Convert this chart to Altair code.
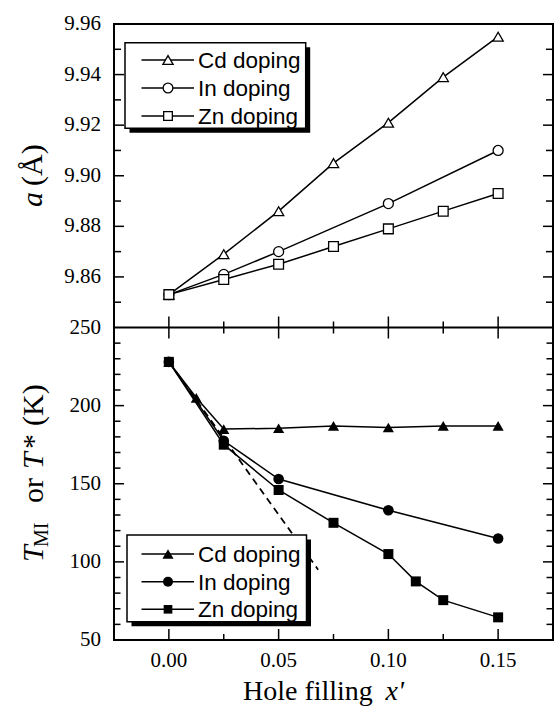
import altair as alt
import pandas as pd

# ---------------- data ----------------
series = ["Cd doping", "In doping", "Zn doping"]
shapes = ["triangle-up", "circle", "square"]

# lattice parameter a (Å) against hole filling x'
a_cd_x = [0.0, 0.025, 0.05, 0.075, 0.10, 0.125, 0.15]
a_cd = [9.853, 9.869, 9.886, 9.905, 9.921, 9.939, 9.955]
a_in_x = [0.0, 0.025, 0.05, 0.10, 0.15]
a_in = [9.853, 9.861, 9.870, 9.889, 9.910]
a_zn_x = [0.0, 0.025, 0.05, 0.075, 0.10, 0.125, 0.15]
a_zn = [9.853, 9.859, 9.865, 9.872, 9.879, 9.886, 9.893]

# transition temperature T_MI / T* (K) against hole filling x'
t_cd_x = [0.0, 0.0125, 0.025, 0.05, 0.075, 0.10, 0.125, 0.15]
t_cd = [228, 205, 185, 185.5, 187, 186, 187, 187]
t_in_x = [0.0, 0.025, 0.05, 0.10, 0.15]
t_in = [228, 177.5, 153, 133, 115]
t_zn_x = [0.0, 0.025, 0.05, 0.075, 0.10, 0.1125, 0.125, 0.15]
t_zn = [228, 175, 146, 125, 105, 87.5, 75.5, 64.5]

# dashed extrapolation of the initial T_MI drop
guide_x = [0.0, 0.068]
guide_t = [228, 95]

# tick positions and labels
x_major = [0.0, 0.05, 0.10, 0.15]
x_minor = [0.025, 0.075, 0.125]
a_major = [9.86, 9.88, 9.90, 9.92, 9.94, 9.96]
a_minor = [9.85, 9.87, 9.89, 9.91, 9.93, 9.95]
t_labels = [50, 100, 150, 200, 250]
t_major = [100, 150, 200]
t_minor = [60, 70, 80, 90, 110, 120, 130, 140, 160, 170, 180, 190, 210, 220, 230, 240]

# ---------------- layout ----------------
PAD_L, PAD_T = 114, 24
W = 439
H_TOP = 303.5
H = 616
SERIF = "Liberation Serif"
SANS = "Liberation Sans"


def px(v):
    return v - PAD_L


def py(v):
    return v - PAD_T


def table(xv, yv, name):
    return pd.DataFrame({"x": xv, "v": yv, "series": name})


df_a = pd.concat([table(a_cd_x, a_cd, series[0]),
                  table(a_in_x, a_in, series[1]),
                  table(a_zn_x, a_zn, series[2])], ignore_index=True)
df_t = pd.concat([table(t_cd_x, t_cd, series[0]),
                  table(t_in_x, t_in, series[1]),
                  table(t_zn_x, t_zn, series[2])], ignore_index=True)
df_guide = pd.DataFrame({"x": guide_x, "v": guide_t})
one = pd.DataFrame({"k": [0]})

xs = alt.Scale(domain=[-0.025, 0.175], nice=False, zero=False)
ys_a = alt.Scale(domain=[9.84, 9.96], range=[H_TOP, 0], nice=False, zero=False)
ys_t = alt.Scale(domain=[50, 250], range=[H, H_TOP], nice=False, zero=False)


def yticks(vals, scale, length):
    d = pd.DataFrame({"v": vals})
    left = alt.Chart(d).mark_rule(color="black", strokeWidth=1.5).encode(
        y=alt.Y("v:Q", scale=scale, axis=None),
        x=alt.value(0), x2=alt.value(length))
    right = alt.Chart(d).mark_rule(color="black", strokeWidth=1.5).encode(
        y=alt.Y("v:Q", scale=scale, axis=None),
        x=alt.value(W), x2=alt.value(W - length))
    return [left, right]


def xticks(vals, y0, y1):
    d = pd.DataFrame({"v": vals})
    return alt.Chart(d).mark_rule(color="black", strokeWidth=1.5).encode(
        x=alt.X("v:Q", scale=xs, axis=None),
        y=alt.value(y0), y2=alt.value(y1))


def ylabels(vals, scale, fmt):
    d = pd.DataFrame({"v": vals})
    return alt.Chart(d).mark_text(
        align="right", baseline="middle", font=SERIF, fontSize=21, color="black"
    ).encode(y=alt.Y("v:Q", scale=scale, axis=None), x=alt.value(-13),
             text=alt.Text("v:Q", format=fmt))


def xlabels(vals):
    d = pd.DataFrame({"v": vals})
    return alt.Chart(d).mark_text(
        align="center", baseline="top", font=SERIF, fontSize=21, color="black"
    ).encode(x=alt.X("v:Q", scale=xs, axis=None), y=alt.value(H + 10),
             text=alt.Text("v:Q", format=".2f"))


def legend(box, rows, filled, sizes):
    x0, y0, x1, y1 = box
    layers = [
        alt.Chart(one).mark_rect(color="black").encode(
            x=alt.value(px(x0 + 4.5)), x2=alt.value(px(x1 + 4.5)),
            y=alt.value(py(y0 + 4.5)), y2=alt.value(py(y1 + 4.5))),
        alt.Chart(one).mark_rect(fill="white", stroke="black", strokeWidth=1.5).encode(
            x=alt.value(px(x0)), x2=alt.value(px(x1)),
            y=alt.value(py(y0)), y2=alt.value(py(y1))),
    ]
    for name, shape, size, ry in zip(series, shapes, sizes, rows):
        layers.append(alt.Chart(one).mark_rule(color="black", strokeWidth=1.5).encode(
            x=alt.value(px(141.5)), x2=alt.value(px(194)), y=alt.value(py(ry))))
        if filled:
            pt = alt.Chart(one).mark_point(shape=shape, size=size, filled=True,
                                           color="black", opacity=1)
        else:
            pt = alt.Chart(one).mark_point(shape=shape, size=size, filled=True,
                                           fill="white", stroke="black",
                                           strokeWidth=1.3, opacity=1)
        layers.append(pt.encode(x=alt.value(px(168)), y=alt.value(py(ry))))
        layers.append(alt.Chart(one).mark_text(
            align="left", baseline="middle", font=SANS, fontSize=22.5, color="black"
        ).encode(x=alt.value(px(198)), y=alt.value(py(ry + 1)), text=alt.value(name)))
    return layers


shape_scale = alt.Scale(domain=series, range=shapes)

# ---------------- upper panel: a ----------------
top_layers = [
    alt.Chart(df_a).mark_line(color="black", strokeWidth=1.5).encode(
        x=alt.X("x:Q", scale=xs, axis=None),
        y=alt.Y("v:Q", scale=ys_a, axis=None),
        detail="series:N"),
    alt.Chart(df_a).mark_point(filled=True, fill="white", stroke="black",
                               strokeWidth=1.3, opacity=1).encode(
        x=alt.X("x:Q", scale=xs, axis=None),
        y=alt.Y("v:Q", scale=ys_a, axis=None),
        shape=alt.Shape("series:N", scale=shape_scale, legend=None),
        size=alt.Size("series:N", scale=alt.Scale(domain=series, range=[105, 95, 75]),
                      legend=None)),
    ylabels(a_major, ys_a, ".2f"),
]
top_layers += yticks(a_major, ys_a, 10) + yticks(a_minor, ys_a, 7)
top_layers += legend((125, 42.7, 305.7, 128.3), [60, 88, 116], False, [105, 95, 75])
top = alt.layer(*top_layers)

# ---------------- lower panel: T ----------------
bottom_layers = [
    alt.Chart(pd.DataFrame({"v": [250]})).mark_rule(color="black", strokeWidth=2).encode(
        y=alt.Y("v:Q", scale=ys_t, axis=None), x=alt.value(0), x2=alt.value(W)),
    alt.Chart(df_guide).mark_line(color="black", strokeWidth=1.8, strokeDash=[7, 5]).encode(
        x=alt.X("x:Q", scale=xs, axis=None),
        y=alt.Y("v:Q", scale=ys_t, axis=None)),
    alt.Chart(df_t).mark_line(color="black", strokeWidth=1.5).encode(
        x=alt.X("x:Q", scale=xs, axis=None),
        y=alt.Y("v:Q", scale=ys_t, axis=None),
        detail="series:N"),
    alt.Chart(df_t).mark_point(filled=True, color="black", opacity=1).encode(
        x=alt.X("x:Q", scale=xs, axis=None),
        y=alt.Y("v:Q", scale=ys_t, axis=None),
        shape=alt.Shape("series:N", scale=shape_scale, legend=None),
        size=alt.Size("series:N", scale=alt.Scale(domain=series, range=[125, 100, 75]),
                      legend=None)),
    ylabels(t_labels, ys_t, "d"),
    xlabels(x_major),
]
bottom_layers += yticks(t_major, ys_t, 10) + yticks(t_minor, ys_t, 6.5)
bottom_layers += [
    xticks(x_major, H_TOP - 11, H_TOP + 11),
    xticks(x_minor, H_TOP - 6, H_TOP + 6),
    xticks(x_major, H, H - 11),
    xticks(x_minor, H, H - 6),
]
bottom_layers += legend((127, 535, 306.5, 621.7), [554, 581.7, 609.3], True, [125, 100, 75])
bottom = alt.layer(*bottom_layers)


# ---------------- axis titles ----------------
def label(text, x, y, size=30, style="normal", angle=0, align="left"):
    return alt.Chart(one).mark_text(
        text=text, font=SERIF, fontSize=size, fontStyle=style, angle=angle,
        align=align, baseline="alphabetic", color="black"
    ).encode(x=alt.value(px(x)), y=alt.value(py(y)))


titles = [
    # a (Å)
    label("a", 42, 207, style="italic", angle=270),
    label("(Å)", 42, 186, angle=270),
    # T_MI or T* (K)
    label("T", 43, 562, style="italic", angle=270),
    label("MI", 48, 547, size=20, angle=270),
    label("or", 43, 503, angle=270),
    label("T", 43, 469, style="italic", angle=270),
    label("*", 43, 449, angle=270),
    label("(K)", 43, 426, angle=270),
    # Hole filling x'
    label("Hole filling", 243, 700, size=28),
    label("x'", 385.5, 700, size=28, style="italic"),
]

chart = alt.layer(top, bottom, *titles).resolve_scale(
    y="independent", shape="independent", size="independent"
).properties(
    width=W, height=H,
    padding={"left": PAD_L, "top": PAD_T, "right": 554 - PAD_L - W, "bottom": 707 - PAD_T - H},
    autosize=alt.AutoSizeParams(type="none"),
    background="white",
).configure_view(stroke="black", strokeWidth=2)

chart.save("out.html", embed_options={"renderer": "svg", "actions": False})
